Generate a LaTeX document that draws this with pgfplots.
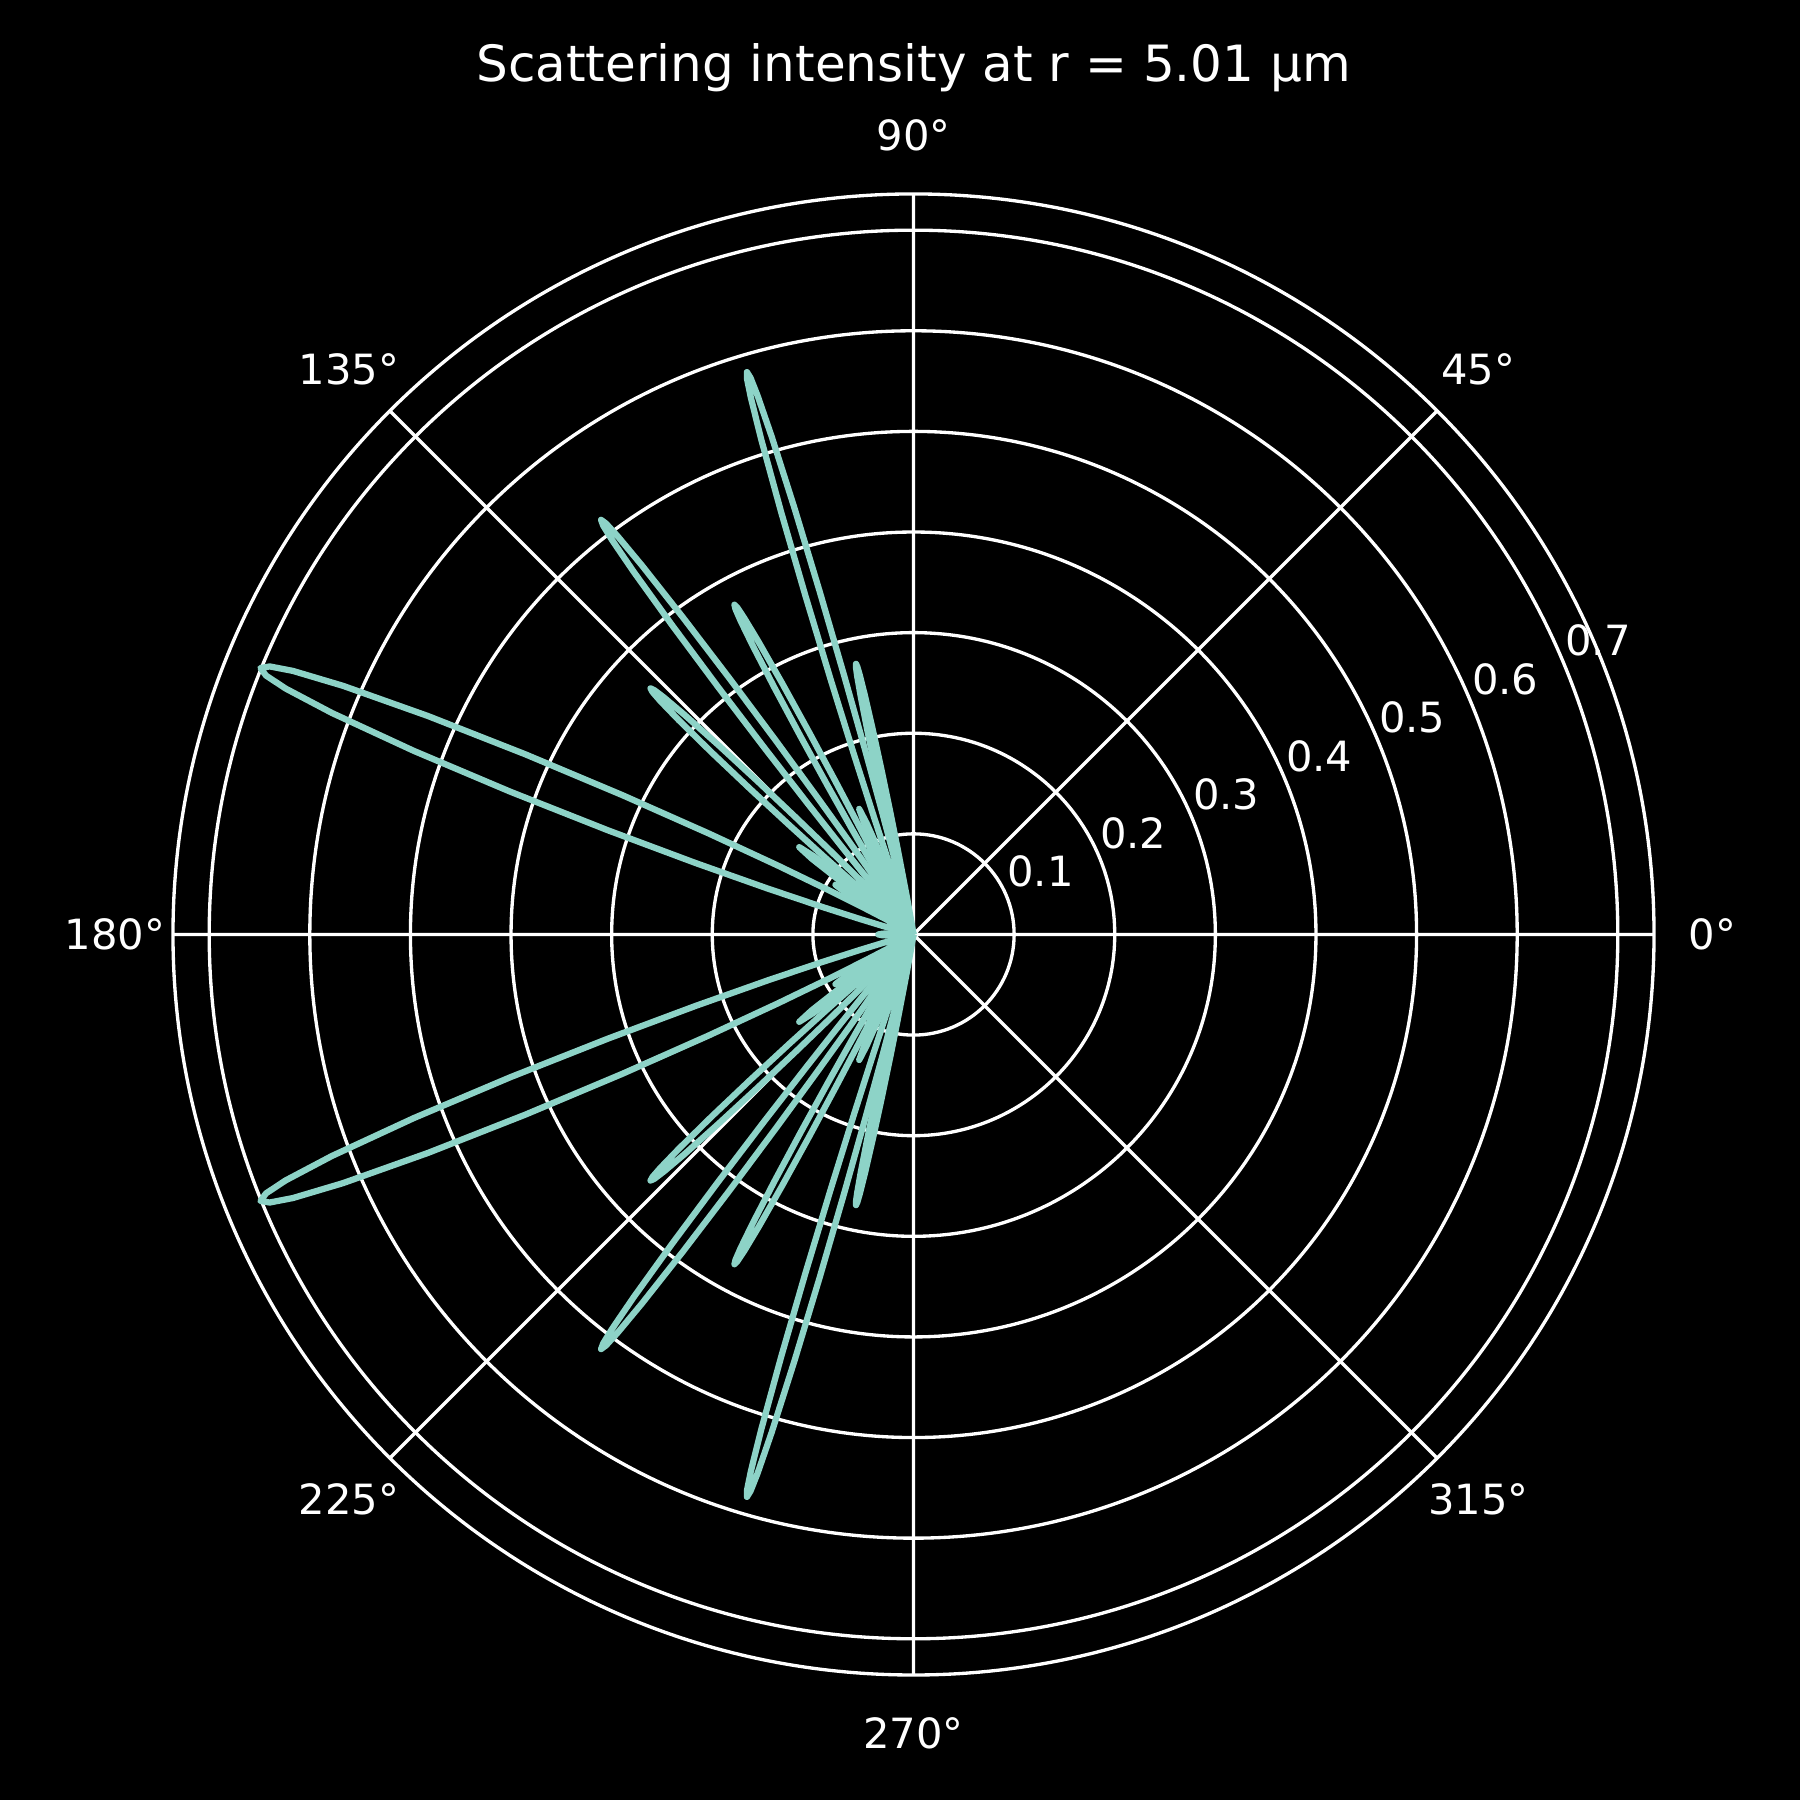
\documentclass[border=0pt]{standalone}
\usepackage{fontspec}
\setmainfont{DejaVu Sans}
\usepackage{pgfplots}
\pgfplotsset{compat=1.18}
\usepgfplotslibrary{polar}
\usetikzlibrary{backgrounds}
\definecolor{lobec}{HTML}{8DD3C7}
\pgfplotsset{lobe/.style={lobec, line width=1.5bp, line join=round, no markers}}
\tikzset{rlab/.style={white, anchor=base west, inner sep=0pt, yshift=2.2pt, font=\fontsize{10bp}{12bp}\selectfont}}
\begin{document}
\begin{tikzpicture}
\begin{polaraxis}[
  width=356.8pt, height=356.8pt, scale only axis,
  xmin=0, xmax=360, ymin=0, ymax=0.736,
  xtick={0,45,90,135,180,225,270,315}, xticklabels={},
  ytick={0.1,0.2,0.3,0.4,0.5,0.6,0.7}, yticklabels={},
  grid=major, major grid style={white, line width=0.8bp},
  axis line style={white, line width=0.8bp},
  major tick length=0pt,
  clip=false,
]
\coordinate (O) at (axis cs:0,0);
% upper half
\addplot[lobe] coordinates {(99,0) (99.5,0.0121) (100,0.0372) (100.5,0.0893) (100.75,0.1259) (101,0.1668) (101.25,0.2076) (101.5,0.2427) (101.7,0.2629) (101.85,0.2719) (102,0.275) (102.15,0.2719) (102.3,0.2629) (102.5,0.2427) (102.75,0.2076) (103,0.1668) (103.25,0.1259) (103.5,0.0893) (104,0.0372) (104.5,0.0121) (105,0)};
\addplot[lobe] coordinates {(102.9,0) (103.5,0.0256) (103.8,0.0464) (104.1,0.0789) (104.4,0.1261) (104.7,0.1893) (105,0.2669) (105.3,0.3536) (105.6,0.44) (105.9,0.5145) (106.14,0.5573) (106.32,0.5765) (106.5,0.583) (106.68,0.5765) (106.86,0.5573) (107.1,0.5145) (107.4,0.44) (107.7,0.3536) (108,0.2669) (108.3,0.1893) (108.6,0.1261) (108.9,0.0789) (109.2,0.0464) (109.5,0.0256) (110.1,0)};
\addplot[lobe] coordinates {(110.1,0) (111.2,0.0184) (111.75,0.0442) (112.3,0.0825) (112.85,0.12) (113.4,0.136) (113.95,0.12) (114.5,0.0825) (115.05,0.0442) (115.6,0.0184) (116.7,0)};
\addplot[lobe] coordinates {(114.9,0) (115.5,0.0164) (115.8,0.0297) (116.1,0.0505) (116.4,0.0807) (116.7,0.1211) (117,0.1708) (117.3,0.2262) (117.6,0.2815) (117.9,0.3292) (118.14,0.3566) (118.32,0.3688) (118.5,0.373) (118.68,0.3688) (118.86,0.3566) (119.1,0.3292) (119.4,0.2815) (119.7,0.2262) (120,0.1708) (120.3,0.1211) (120.6,0.0807) (120.9,0.0505) (121.2,0.0297) (121.5,0.0164) (122.1,0)};
\addplot[lobe] coordinates {(123.1,0) (123.75,0.0227) (124.075,0.0411) (124.4,0.0698) (124.725,0.1116) (125.05,0.1675) (125.375,0.2362) (125.7,0.313) (126.025,0.3895) (126.35,0.4554) (126.61,0.4933) (126.805,0.5102) (127,0.516) (127.195,0.5102) (127.39,0.4933) (127.65,0.4554) (127.975,0.3895) (128.3,0.313) (128.625,0.2362) (128.95,0.1675) (129.275,0.1116) (129.6,0.0698) (129.925,0.0411) (130.25,0.0227) (130.9,0)};
\addplot[lobe] coordinates {(132.7,0) (133.4,0.0157) (133.75,0.0285) (134.1,0.0484) (134.45,0.0774) (134.8,0.1162) (135.15,0.1639) (135.5,0.2171) (135.85,0.2702) (136.2,0.3159) (136.48,0.3422) (136.69,0.354) (136.9,0.358) (137.11,0.354) (137.32,0.3422) (137.6,0.3159) (137.95,0.2702) (138.3,0.2171) (138.65,0.1639) (139,0.1162) (139.35,0.0774) (139.7,0.0484) (140.05,0.0285) (140.4,0.0157) (141.1,0)};
\addplot[lobe] coordinates {(138.4,0) (139.8,0.0194) (140.5,0.0464) (141.2,0.0867) (141.9,0.1262) (142.6,0.143) (143.3,0.1262) (144,0.0867) (144.7,0.0464) (145.4,0.0194) (146.8,0)};
\addplot[lobe] coordinates {(143,0) (144.5,0.0125) (145.25,0.0299) (146,0.0558) (146.75,0.0812) (147.5,0.092) (148.25,0.0812) (149,0.0558) (149.75,0.0299) (150.5,0.0125) (152,0)};
\addplot[lobe] coordinates {(149.7,0) (151.05,0.0308) (151.725,0.0558) (152.4,0.0948) (153.075,0.1516) (153.75,0.2276) (154.425,0.3209) (155.1,0.4252) (155.775,0.5291) (156.45,0.6186) (156.99,0.6702) (157.395,0.6931) (157.8,0.701) (158.205,0.6931) (158.61,0.6702) (159.15,0.6186) (159.825,0.5291) (160.5,0.4252) (161.175,0.3209) (161.85,0.2276) (162.525,0.1516) (163.2,0.0948) (163.875,0.0558) (164.55,0.0308) (165.9,0)};
\addplot[lobe] coordinates {(171,0) (174,0.0047) (175.5,0.0114) (177,0.0212) (178.5,0.0309) (180,0.035) (181.5,0.0309) (183,0.0212) (184.5,0.0114) (186,0.0047) (189,0)};
% lower half
\addplot[lobe] coordinates {(261,0) (260.5,0.0121) (260,0.0372) (259.5,0.0893) (259.25,0.1259) (259,0.1668) (258.75,0.2076) (258.5,0.2427) (258.3,0.2629) (258.15,0.2719) (258,0.275) (257.85,0.2719) (257.7,0.2629) (257.5,0.2427) (257.25,0.2076) (257,0.1668) (256.75,0.1259) (256.5,0.0893) (256,0.0372) (255.5,0.0121) (255,0)};
\addplot[lobe] coordinates {(257.1,0) (256.5,0.0256) (256.2,0.0464) (255.9,0.0789) (255.6,0.1261) (255.3,0.1893) (255,0.2669) (254.7,0.3536) (254.4,0.44) (254.1,0.5145) (253.86,0.5573) (253.68,0.5765) (253.5,0.583) (253.32,0.5765) (253.14,0.5573) (252.9,0.5145) (252.6,0.44) (252.3,0.3536) (252,0.2669) (251.7,0.1893) (251.4,0.1261) (251.1,0.0789) (250.8,0.0464) (250.5,0.0256) (249.9,0)};
\addplot[lobe] coordinates {(249.9,0) (248.8,0.0184) (248.25,0.0442) (247.7,0.0825) (247.15,0.12) (246.6,0.136) (246.05,0.12) (245.5,0.0825) (244.95,0.0442) (244.4,0.0184) (243.3,0)};
\addplot[lobe] coordinates {(245.1,0) (244.5,0.0164) (244.2,0.0297) (243.9,0.0505) (243.6,0.0807) (243.3,0.1211) (243,0.1708) (242.7,0.2262) (242.4,0.2815) (242.1,0.3292) (241.86,0.3566) (241.68,0.3688) (241.5,0.373) (241.32,0.3688) (241.14,0.3566) (240.9,0.3292) (240.6,0.2815) (240.3,0.2262) (240,0.1708) (239.7,0.1211) (239.4,0.0807) (239.1,0.0505) (238.8,0.0297) (238.5,0.0164) (237.9,0)};
\addplot[lobe] coordinates {(236.9,0) (236.25,0.0227) (235.925,0.0411) (235.6,0.0698) (235.275,0.1116) (234.95,0.1675) (234.625,0.2362) (234.3,0.313) (233.975,0.3895) (233.65,0.4554) (233.39,0.4933) (233.195,0.5102) (233,0.516) (232.805,0.5102) (232.61,0.4933) (232.35,0.4554) (232.025,0.3895) (231.7,0.313) (231.375,0.2362) (231.05,0.1675) (230.725,0.1116) (230.4,0.0698) (230.075,0.0411) (229.75,0.0227) (229.1,0)};
\addplot[lobe] coordinates {(227.3,0) (226.6,0.0157) (226.25,0.0285) (225.9,0.0484) (225.55,0.0774) (225.2,0.1162) (224.85,0.1639) (224.5,0.2171) (224.15,0.2702) (223.8,0.3159) (223.52,0.3422) (223.31,0.354) (223.1,0.358) (222.89,0.354) (222.68,0.3422) (222.4,0.3159) (222.05,0.2702) (221.7,0.2171) (221.35,0.1639) (221,0.1162) (220.65,0.0774) (220.3,0.0484) (219.95,0.0285) (219.6,0.0157) (218.9,0)};
\addplot[lobe] coordinates {(221.6,0) (220.2,0.0194) (219.5,0.0464) (218.8,0.0867) (218.1,0.1262) (217.4,0.143) (216.7,0.1262) (216,0.0867) (215.3,0.0464) (214.6,0.0194) (213.2,0)};
\addplot[lobe] coordinates {(217,0) (215.5,0.0125) (214.75,0.0299) (214,0.0558) (213.25,0.0812) (212.5,0.092) (211.75,0.0812) (211,0.0558) (210.25,0.0299) (209.5,0.0125) (208,0)};
\addplot[lobe] coordinates {(210.3,0) (208.95,0.0308) (208.275,0.0558) (207.6,0.0948) (206.925,0.1516) (206.25,0.2276) (205.575,0.3209) (204.9,0.4252) (204.225,0.5291) (203.55,0.6186) (203.01,0.6702) (202.605,0.6931) (202.2,0.701) (201.795,0.6931) (201.39,0.6702) (200.85,0.6186) (200.175,0.5291) (199.5,0.4252) (198.825,0.3209) (198.15,0.2276) (197.475,0.1516) (196.8,0.0948) (196.125,0.0558) (195.45,0.0308) (194.1,0)};
% radial tick labels
\node[rlab] at (axis cs:22.5,0.1) {0.1};
\node[rlab] at (axis cs:22.5,0.2) {0.2};
\node[rlab] at (axis cs:22.5,0.3) {0.3};
\node[rlab] at (axis cs:22.5,0.4) {0.4};
\node[rlab] at (axis cs:22.5,0.5) {0.5};
\node[rlab] at (axis cs:22.5,0.6) {0.6};
\node[rlab] at (axis cs:22.5,0.7) {0.7};
\end{polaraxis}
\begin{scope}[shift={(O)}, every node/.style={white, font=\fontsize{10bp}{12bp}\selectfont, inner sep=0pt}]
\node at (0:192.4pt) {0°};
\node at (45:192.4pt) {45°};
\node at (90:192.4pt) {90°};
\node at (135:192.4pt) {135°};
\node at (180:192.4pt) {180°};
\node at (225:192.4pt) {225°};
\node at (270:192.4pt) {270°};
\node at (315:192.4pt) {315°};
\node[anchor=base, font=\fontsize{12bp}{14bp}\selectfont] at (0,205.6pt) {Scattering intensity at r = 5.01 µm};
\end{scope}
\begin{scope}[on background layer]
\fill[black, shift={(O)}] (-220.07pt,-208.5pt) rectangle (213.56pt,225.12pt);
\end{scope}
\pgfresetboundingbox
\path[use as bounding box, shift={(O)}] (-220.07pt,-208.5pt) rectangle (213.56pt,225.12pt);
\end{tikzpicture}
\end{document}
